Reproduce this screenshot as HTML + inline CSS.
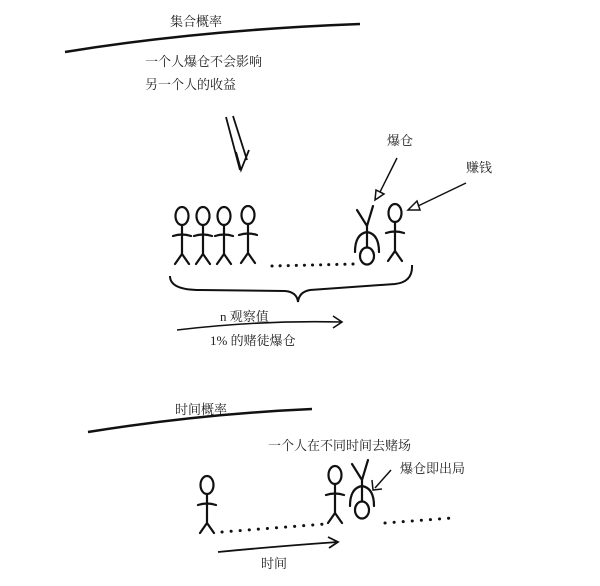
<!DOCTYPE html>
<html><head><meta charset="utf-8"><style>
body{margin:0;background:#fff}
svg{display:block}
text{font-family:"Liberation Serif","Noto Serif CJK SC",serif;font-size:13px;fill:#222}
</style></head><body>
<svg width="600" height="586" viewBox="0 0 600 586" xmlns="http://www.w3.org/2000/svg">
<defs>
<g id="fig" stroke="#111" stroke-width="2.2" fill="none" stroke-linecap="round">
<ellipse cx="0" cy="0" rx="6.5" ry="9"/>
<path d="M0 9 L0 38 M-9 20 Q0 17 9 20 M0 38 L-7 48 M0 38 L7 48"/>
</g>
<g id="inv" stroke="#111" stroke-width="2.2" fill="none" stroke-linecap="round">
<path d="M-10 0 L0 16 L6 -4 M0 16 L0 36 M0 22 Q-12 24 -12 42 M0 22 Q12 24 12 42"/>
<ellipse cx="0" cy="46" rx="7" ry="8.5"/>
</g>
</defs>
<text x="170" y="26">集合概率</text>
<path d="M65 52 Q200 30 360 24" stroke="#111" stroke-width="2.5" fill="none"/>
<text x="145" y="66">一个人爆仓不会影响</text>
<text x="145" y="89">另一个人的收益</text>
<path d="M226 117 L240 170 M233 116 L247 160 M236 152 L241 170 L249 150" stroke="#111" stroke-width="1.8" fill="none"/>
<text x="387" y="145">爆仓</text>
<text x="466" y="172">赚钱</text>
<path d="M397 158 L380 192" stroke="#111" stroke-width="1.5"/>
<path d="M375 200 L376 190 L384 194 Z" stroke="#111" stroke-width="1.5" fill="none"/>
<path d="M466 183 L418 206" stroke="#111" stroke-width="1.5"/>
<path d="M408 210 L417 201 L420 210 Z" stroke="#111" stroke-width="1.5" fill="none"/>
<use href="#fig" x="182" y="216"/>
<use href="#fig" x="203" y="216"/>
<use href="#fig" x="224" y="216"/>
<use href="#fig" x="248" y="215"/>
<use href="#inv" x="367" y="210"/>
<use href="#fig" x="395" y="213"/>
<path d="M272 266 L355 264" stroke="#111" stroke-width="3" stroke-dasharray="0.1 8" stroke-linecap="round"/>
<path d="M170 276 Q170 290 200 290 L285 291 Q297 292 298 302 Q299 292 310 290 L395 284 Q413 282 412 265" stroke="#111" stroke-width="2" fill="none"/>
<text x="220" y="321">n 观察值</text>
<path d="M177 330 Q260 320 342 322 M333 316 L342 322 L333 328" stroke="#111" stroke-width="1.6" fill="none"/>
<text x="210" y="345">1% 的赌徒爆仓</text>
<text x="175" y="414">时间概率</text>
<path d="M88 432 Q200 414 312 409" stroke="#111" stroke-width="2.5" fill="none"/>
<text x="268" y="450">一个人在不同时间去赌场</text>
<text x="400" y="473">爆仓即出局</text>
<path d="M391 470 L375 488 M372 480 L373 490 L382 489" stroke="#111" stroke-width="1.5" fill="none"/>
<use href="#fig" x="207" y="485"/>
<use href="#fig" x="335" y="475"/>
<use href="#inv" x="362" y="464"/>
<path d="M222 532 L325 524 M385 523 L452 518" stroke="#111" stroke-width="3" stroke-dasharray="0.1 9" stroke-linecap="round"/>
<path d="M218 552 Q280 546 338 542 M328 537 L338 542 L329 548" stroke="#111" stroke-width="1.8" fill="none"/>
<text x="261" y="568">时间</text>
</svg>
</body></html>
